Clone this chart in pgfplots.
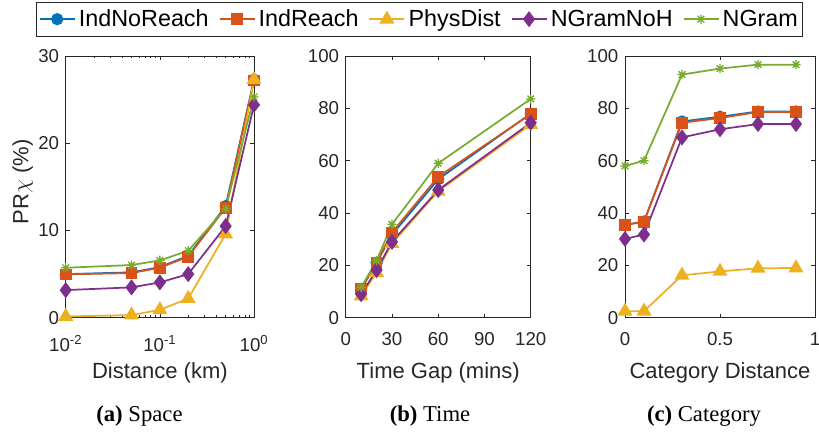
\documentclass[border=0pt]{standalone}
\usepackage{fontspec}
\setmainfont{Liberation Sans}
\newfontfamily\capfont{Liberation Serif}
\usepackage{pgfplots}
\pgfplotsset{compat=1.18}
\definecolor{c1}{RGB}{0,114,189}
\definecolor{c2}{RGB}{217,83,25}
\definecolor{c3}{RGB}{237,177,32}
\definecolor{c4}{RGB}{126,47,142}
\definecolor{c5}{RGB}{119,172,48}
\definecolor{axc}{gray}{0.15}
\pgfdeclareplotmark{mstar}{%
  \pgfpathmoveto{\pgfqpoint{-\pgfplotmarksize}{0pt}}\pgfpathlineto{\pgfqpoint{\pgfplotmarksize}{0pt}}%
  \pgfpathmoveto{\pgfqpoint{0pt}{-\pgfplotmarksize}}\pgfpathlineto{\pgfqpoint{0pt}{\pgfplotmarksize}}%
  \pgfpathmoveto{\pgfqpoint{-0.7071\pgfplotmarksize}{-0.7071\pgfplotmarksize}}\pgfpathlineto{\pgfqpoint{0.7071\pgfplotmarksize}{0.7071\pgfplotmarksize}}%
  \pgfpathmoveto{\pgfqpoint{-0.7071\pgfplotmarksize}{0.7071\pgfplotmarksize}}\pgfpathlineto{\pgfqpoint{0.7071\pgfplotmarksize}{-0.7071\pgfplotmarksize}}%
  \pgfusepathqstroke}
\pgfplotsset{
  mplot/.style={
    scale only axis, height=196.3pt,
    axis line style={axc, line width=0.5pt},
    every tick/.style={axc, line width=0.5pt},
    major tick length=3pt, minor tick length=1.8pt,
    tick align=inside,
    /pgf/number format/assume math mode=true,
    ticklabel style={font=\fontsize{14}{16}\selectfont, text=axc},
    yticklabel style={anchor=east, inner sep=0pt, xshift=-4.8pt},
    xticklabel style={anchor=base, inner sep=0pt, yshift=-20.5pt},
    label style={font=\fontsize{16.5}{19}\selectfont, text=axc},
    xlabel style={at={(axis description cs:0.5,-0.234)}, anchor=base},
    clip=false,
    every axis plot/.append style={line width=1.3pt},
  },
  s1/.style={c1, mark=*, mark size=3.9pt, mark options={solid, fill=c1}},
  s2/.style={c2, mark=square*, mark size=3.75pt, mark options={solid, fill=c2}},
  s3/.style={c3, mark=triangle*, mark size=5.2pt, mark options={solid, fill=c3}},
  s4/.style={c4, mark=diamond*, mark size=5pt, mark options={solid, fill=c4}},
  s5/.style={c5, mark=mstar, mark size=3.5pt, mark options={solid, line width=1pt}},
}
\begin{document}
\begin{tikzpicture}
\path[use as bounding box] (0,0) rectangle (614.25pt,327pt);
% (a) Space
\begin{axis}[mplot, at={(49.3pt,88.7pt)}, anchor=south west, width=141.2pt,
  xmode=log, xmin=0.01, xmax=1, ymin=0, ymax=30,
  xtick={0.01,0.1,1}, xticklabels={10\textsuperscript{-2},10\textsuperscript{-1},10\textsuperscript{0}},
  xticklabel style={yshift=-5pt},
  ytick={0,10,20,30},
  ylabel={PR$\chi$ (\%)},
  ylabel style={at={(axis description cs:-0.229,0.52)}, anchor=center, rotate=0},
  xlabel={Distance (km)},
  legend columns=5,
  legend style={at={(axis description cs:-0.159,1.2063)}, anchor=north west, draw=axc, line width=0.6pt, fill=white,
    font=\fontsize{17.5}{21}\selectfont, text=black, inner xsep=2pt, inner ysep=4.5pt,
    nodes={inner sep=1pt},
    /tikz/every odd column/.append style={column sep=1.5pt},
    /tikz/every even column/.append style={column sep=6.5pt}},
  legend image code/.code={\draw[mark repeat=2, mark phase=2] plot coordinates {(0pt,0pt) (13.1pt,0pt) (26.25pt,0pt)};},
]
\addplot[s1] coordinates {(0.01,5.0) (0.05,5.2) (0.1,5.8) (0.2,7.1) (0.5,12.8) (1,27.3)};
\addlegendentry{IndNoReach}
\addplot[s2] coordinates {(0.01,4.97) (0.05,5.12) (0.1,5.73) (0.2,7.0) (0.5,12.6) (1,27.2)};
\addlegendentry{IndReach}
\addplot[s3] coordinates {(0.01,0.15) (0.05,0.3) (0.1,0.9) (0.2,2.2) (0.5,9.6) (1,27.3)};
\addlegendentry{PhysDist}
\addplot[s4] coordinates {(0.01,3.17) (0.05,3.48) (0.1,4.05) (0.2,5.0) (0.5,10.5) (1,24.4)};
\addlegendentry{NGramNoH}
\addplot[s5] coordinates {(0.01,5.73) (0.05,6.04) (0.1,6.57) (0.2,7.68) (0.5,12.5) (1,25.3)};
\addlegendentry{NGram}
\end{axis}
% (b) Time
\begin{axis}[mplot, at={(259.3pt,88.7pt)}, anchor=south west, width=138.75pt,
  xmin=0, xmax=120, ymin=0, ymax=100,
  xtick={0,30,60,90,120}, ytick={0,20,40,60,80,100},
  xlabel={Time Gap (mins)},
]
\addplot[s1] coordinates {(10,10.8) (20,21) (30,31.7) (60,52.9) (120,78)};
\addplot[s2] coordinates {(10,11.1) (20,21) (30,32.6) (60,53.9) (120,77.8)};
\addplot[s3] coordinates {(10,8.3) (20,17.3) (30,28.3) (60,48.3) (120,73.8)};
\addplot[s4] coordinates {(10,9) (20,18.2) (30,29) (60,48.8) (120,74.5)};
\addplot[s5] coordinates {(10,11.6) (20,21.8) (30,35.7) (60,59) (120,83.6)};
\end{axis}
% (c) Category
\begin{axis}[mplot, at={(468.75pt,88.7pt)}, anchor=south west, width=142.5pt,
  xmin=0, xmax=1, ymin=0, ymax=100,
  xtick={0,0.5,1}, ytick={0,20,40,60,80,100},
  xlabel={Category Distance},
]
\addplot[s1] coordinates {(0,35.5) (0.1,36.8) (0.3,75) (0.5,76.8) (0.7,78.8) (0.9,78.8)};
\addplot[s2] coordinates {(0,35.4) (0.1,36.7) (0.3,74.5) (0.5,76.3) (0.7,78.6) (0.9,78.6)};
\addplot[s3] coordinates {(0,2.5) (0.1,2.5) (0.3,16.2) (0.5,17.7) (0.7,18.9) (0.9,19)};
\addplot[s4] coordinates {(0,30.1) (0.1,31.8) (0.3,68.9) (0.5,72) (0.7,74) (0.9,74)};
\addplot[s5] coordinates {(0,58) (0.1,60) (0.3,92.9) (0.5,95.2) (0.7,96.7) (0.9,96.7)};
\end{axis}
\node[anchor=base, font=\capfont\fontsize{17}{20}\selectfont] at (104.6pt,10.5pt) {\textbf{(a)} Space};
\node[anchor=base, font=\capfont\fontsize{17}{20}\selectfont] at (322.5pt,10.5pt) {\textbf{(b)} Time};
\node[anchor=base, font=\capfont\fontsize{17}{20}\selectfont] at (528pt,10.5pt) {\textbf{(c)} Category};
\end{tikzpicture}
\end{document}
